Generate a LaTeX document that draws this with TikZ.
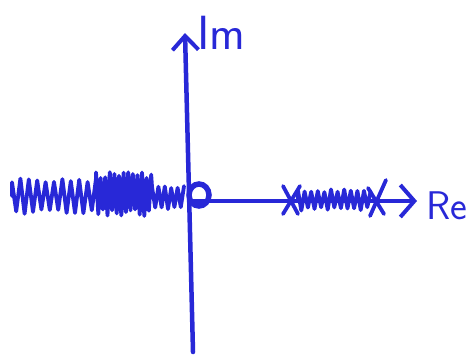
\documentclass[tikz,border=0pt]{standalone}
\usetikzlibrary{arrows.meta}
\definecolor{ink}{RGB}{40,40,215}
\begin{document}
\begin{tikzpicture}[x=1pt,y=-1pt,
  pen/.style={draw=ink,line width=4.5pt,line cap=round,line join=round},
  thin/.style={draw=ink,line width=3.8pt,line cap=round,line join=round},
  lbl/.style={text=ink,font=\sffamily,inner sep=0pt}]
\useasboundingbox (0,0) rectangle (466,354);
\pgfmathsetseed{7}
\coordinate (o) at (191,201);
\coordinate (bot) at (193,352);
\coordinate (top) at (185,33);
\coordinate (reEnd) at (417,201);
\coordinate (reStart) at (191,201);
% axes
\draw[pen,-{Straight Barb[length=14pt,width=26pt,line width=4pt]}] (bot) -- (top);
\draw[pen,-{Straight Barb[length=14pt,width=32pt,line width=4pt]}] (reStart) -- (reEnd);
% labels
\node[lbl,font=\sffamily\fontsize{48}{50}\selectfont,anchor=south west] (im) at (197,50) {Im};
\node[lbl,font=\sffamily\fontsize{40}{42}\selectfont,anchor=west] (re) at (426,206) {Re};
% left scribble (branch cut)
\draw[thin] (12,196)
  foreach \i in {0,...,20} { -- ({12+4.2*\i},{196+(mod(\i,2)*2-1)*(13+5*rnd)}) }
  foreach \i in {0,...,24} { -- ({96+2.3*\i},{194+(mod(\i,2)*2-1)*(15+7*rnd)}) }
  foreach \i in {0,...,10} { -- ({152+3.2*\i},{198+(mod(\i,2)*2-1)*(9+3*rnd)}) };
% origin circle
\draw[draw=ink,line width=5.5pt] (199,195) ellipse [x radius=10, y radius=11];
% right scribble
\draw[thin] (283,186) -- (298,214);
\draw[thin] (283,214) -- (300,186);
\draw[thin] (298,200)
  foreach \i in {0,...,22} { -- ({298+3.3*\i},{200+(mod(\i,2)*2-1)*(7+4*rnd)}) };
\draw[thin] (370,216) -- (386,180);
\draw[thin] (368,188) -- (384,214);
\end{tikzpicture}
\end{document}
